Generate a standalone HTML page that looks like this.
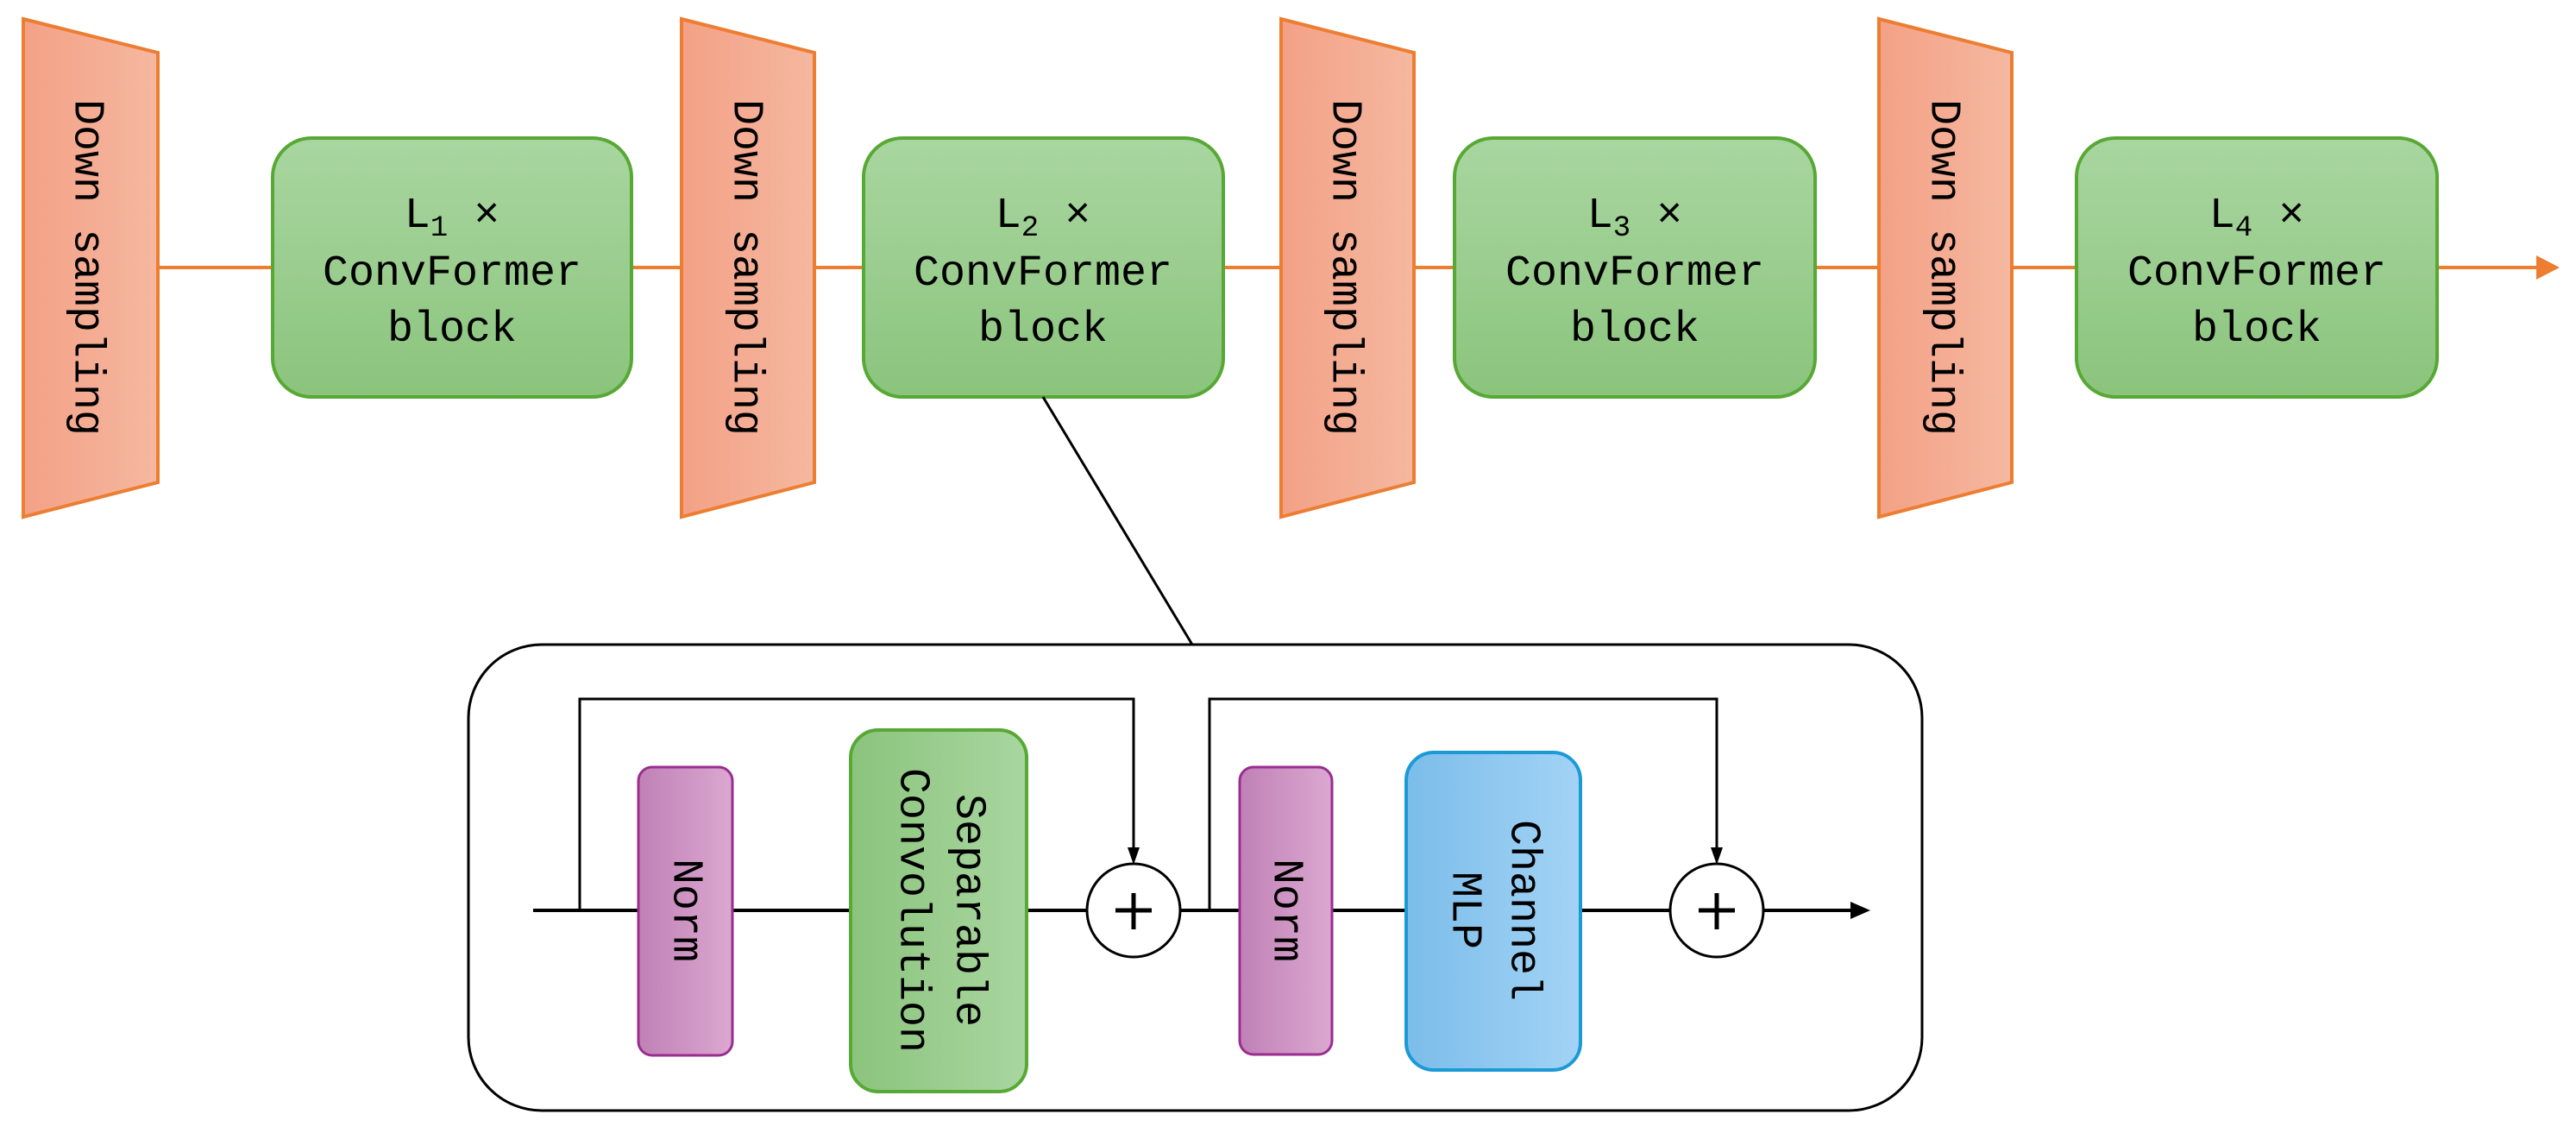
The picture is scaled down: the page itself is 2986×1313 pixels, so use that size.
<!DOCTYPE html>
<html><head><meta charset="utf-8"><style>
html,body{margin:0;padding:0;background:#fff;}
svg{display:block;}
text{font-family:"Liberation Mono","DejaVu Sans Mono",monospace;fill:#000;}
</style></head><body>
<svg width="2986" height="1313" viewBox="0 0 2986 1313" xmlns="http://www.w3.org/2000/svg">
<defs>
<linearGradient id="og" x1="0" x2="1" y1="0" y2="0"><stop offset="0" stop-color="#f3a186"/><stop offset="1" stop-color="#f5b8a0"/></linearGradient>
<linearGradient id="gg" x1="0" x2="0" y1="0" y2="1"><stop offset="0" stop-color="#a9d6a0"/><stop offset="1" stop-color="#8bc47d"/></linearGradient>
<linearGradient id="gh" x1="0" x2="1" y1="0" y2="0"><stop offset="0" stop-color="#8bc47d"/><stop offset="1" stop-color="#a9d6a0"/></linearGradient>
<linearGradient id="pg" x1="0" x2="1" y1="0" y2="0"><stop offset="0" stop-color="#c081b6"/><stop offset="1" stop-color="#dba8d0"/></linearGradient>
<linearGradient id="bg" x1="0" x2="1" y1="0" y2="0"><stop offset="0" stop-color="#7bbde9"/><stop offset="1" stop-color="#a3d3f6"/></linearGradient>
</defs>

<!-- orange main line -->
<line x1="183" y1="310" x2="2945" y2="310" stroke="#ed7d31" stroke-width="4"/>
<polygon points="2967,310 2940,296 2940,324" fill="#ed7d31"/>

<!-- trapezoids -->
<g stroke="#ed7d31" stroke-width="4" fill="url(#og)">
<polygon points="27,22 183,61 183,559 27,599"/>
<polygon points="790,22 944,61 944,559 790,599"/>
<polygon points="1485,22 1639,61 1639,559 1485,599"/>
<polygon points="2178,22 2332,61 2332,559 2178,599"/>
</g>
<g font-size="50">
<text transform="translate(100,310) rotate(90)" text-anchor="middle" dominant-baseline="central">Down sampling</text>
<text transform="translate(864,310) rotate(90)" text-anchor="middle" dominant-baseline="central">Down sampling</text>
<text transform="translate(1558,310) rotate(90)" text-anchor="middle" dominant-baseline="central">Down sampling</text>
<text transform="translate(2252,310) rotate(90)" text-anchor="middle" dominant-baseline="central">Down sampling</text>
</g>

<!-- green blocks -->
<g stroke="#57a834" stroke-width="4" fill="url(#gg)">
<rect x="316" y="160" width="416" height="300" rx="45"/>
<rect x="1001" y="160" width="417" height="300" rx="45"/>
<rect x="1686" y="160" width="418" height="300" rx="45"/>
<rect x="2407" y="160" width="418" height="300" rx="45"/>
</g>
<g font-size="50" text-anchor="middle">
<text x="524" y="263">L<tspan font-size="34" dy="10">1</tspan><tspan dy="-10"> ×</tspan></text>
<text x="524" y="330">ConvFormer</text><text x="524" y="395">block</text>
<text x="1209" y="263">L<tspan font-size="34" dy="10">2</tspan><tspan dy="-10"> ×</tspan></text>
<text x="1209" y="330">ConvFormer</text><text x="1209" y="395">block</text>
<text x="1895" y="263">L<tspan font-size="34" dy="10">3</tspan><tspan dy="-10"> ×</tspan></text>
<text x="1895" y="330">ConvFormer</text><text x="1895" y="395">block</text>
<text x="2616" y="263">L<tspan font-size="34" dy="10">4</tspan><tspan dy="-10"> ×</tspan></text>
<text x="2616" y="330">ConvFormer</text><text x="2616" y="395">block</text>
</g>

<!-- connector -->
<line x1="1209" y1="460" x2="1382" y2="747" stroke="#000" stroke-width="3"/>

<!-- panel -->
<rect x="543" y="747" width="1685" height="540" rx="85" fill="none" stroke="#000" stroke-width="3"/>

<!-- main line -->
<line x1="618" y1="1055" x2="2150" y2="1055" stroke="#000" stroke-width="4"/>
<polygon points="2168,1055 2145,1045 2145,1065" fill="#000"/>

<!-- skip loops -->
<g fill="none" stroke="#000" stroke-width="3">
<polyline points="672,1055 672,810 1314,810 1314,985"/>
<polyline points="1402,1055 1402,810 1990,810 1990,985"/>
</g>
<polygon points="1314,1002 1307,982 1321,982" fill="#000"/>
<polygon points="1990,1002 1983,982 1997,982" fill="#000"/>

<!-- circles -->
<g fill="#fff" stroke="#000" stroke-width="3">
<circle cx="1314" cy="1055" r="54"/>
<circle cx="1990" cy="1055" r="54"/>
</g>
<g stroke="#000" stroke-width="5">
<line x1="1314" y1="1035" x2="1314" y2="1077"/><line x1="1293" y1="1055" x2="1335" y2="1055"/>
<line x1="1990" y1="1035" x2="1990" y2="1077"/><line x1="1969" y1="1055" x2="2011" y2="1055"/>
</g>

<!-- norms -->
<g stroke="#9a2d8f" stroke-width="3" fill="url(#pg)">
<rect x="740" y="889" width="109" height="334" rx="16"/>
<rect x="1437" y="889" width="107" height="333" rx="16"/>
</g>
<rect x="986" y="846" width="204" height="419" rx="32" fill="url(#gh)" stroke="#57a834" stroke-width="4"/>
<rect x="1630" y="872" width="202" height="368" rx="32" fill="url(#bg)" stroke="#1b9ad6" stroke-width="4"/>

<g font-size="50" text-anchor="middle" dominant-baseline="central">
<text transform="translate(794,1055) rotate(90)">Norm</text>
<text transform="translate(1490,1055) rotate(90)">Norm</text>
<text transform="translate(1122,1055) rotate(90)">Separable</text>
<text transform="translate(1057,1055) rotate(90)">Convolution</text>
<text transform="translate(1765,1055) rotate(90)">Channel</text>
<text transform="translate(1697,1055) rotate(90)">MLP</text>
</g>
</svg>
</body></html>
